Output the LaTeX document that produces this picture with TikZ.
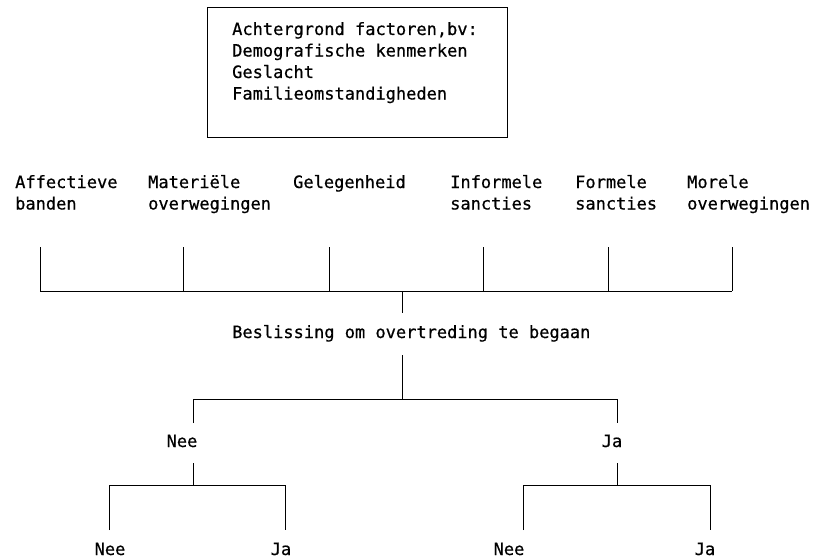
\documentclass[tikz,border=0pt]{standalone}
\usepackage{fontspec}
\newfontfamily\diagfont{DejaVu Sans Mono}[FakeBold=0.6]
\begin{document}
\begin{tikzpicture}[x=1pt,y=-1pt,
  % multi-line texts are placed by the baseline of their last line
  lbl/.style={font=\diagfont\fontsize{17}{21.5}\selectfont, inner sep=0pt, anchor=base west, align=left},
  word/.style={font=\diagfont\fontsize{17}{21.5}\selectfont, inner sep=0pt, anchor=base},
  wire/.style={line width=0.9pt}]
\useasboundingbox (0,0) rectangle (813,559);

% background factors box
\node[draw, wire, minimum width=300pt, minimum height=130pt, anchor=north west, inner sep=0pt] (bg) at (207,7) {};
\node[lbl] (bgtext) at (232,99.5) {Achtergrond factoren,bv:\\Demografische kenmerken\\Geslacht\\Familieomstandigheden};

% considerations
\node[lbl] (aff) at (15,209.5) {Affectieve\\banden};
\node[lbl] (mat) at (148,209.5) {Materiële\\overwegingen};
\node[lbl] (gel) at (293,188) {Gelegenheid};
\node[lbl] (inf) at (450,209.5) {Informele\\sancties};
\node[lbl] (for) at (575,209.5) {Formele\\sancties};
\node[lbl] (mor) at (687,209.5) {Morele\\overwegingen};

\foreach \n/\x in {1/40,2/183,3/329,4/483,5/608,6/732}{
  \coordinate (t\n) at (\x,247);
  \coordinate (b\n) at (\x,291);
}
\foreach \n in {1,...,6}{ \draw[wire] (t\n) -- (b\n); }
\draw[wire] (b1) -- (b6);

% decision
\node[lbl] (dec) at (232,338) {Beslissing om overtreding te begaan};
\coordinate (c0) at (402,291);
\coordinate (c1) at (402,313);
\coordinate (c2) at (402,355);
\coordinate (c3) at (402,399);
\draw[wire] (c0) -- (c1);
\draw[wire] (c2) -- (c3);

% first split
\coordinate (l0) at (193,399);
\coordinate (l1) at (193,423);
\coordinate (r0) at (617,399);
\coordinate (r1) at (617,423);
\draw[wire] (l1) -- (l0) -- (r0) -- (r1);
\node[word] (nee) at (182,447) {Nee};
\node[word] (ja) at (612,447) {Ja};

% second split, left
\coordinate (l2) at (193,463);
\coordinate (l3) at (193,485);
\coordinate (ll0) at (109,485);
\coordinate (ll1) at (109,530);
\coordinate (lr0) at (285,485);
\coordinate (lr1) at (285,530);
\draw[wire] (l2) -- (l3);
\draw[wire] (ll1) -- (ll0) -- (lr0) -- (lr1);
\node[word] (neenee) at (110,555) {Nee};
\node[word] (neeja) at (281,555) {Ja};

% second split, right
\coordinate (r2) at (617,463);
\coordinate (r3) at (617,485);
\coordinate (rl0) at (523,485);
\coordinate (rl1) at (523,530);
\coordinate (rr0) at (710,485);
\coordinate (rr1) at (710,530);
\draw[wire] (r2) -- (r3);
\draw[wire] (rl1) -- (rl0) -- (rr0) -- (rr1);
\node[word] (janee) at (509,555) {Nee};
\node[word] (jaja) at (705,555) {Ja};
\end{tikzpicture}
\end{document}
